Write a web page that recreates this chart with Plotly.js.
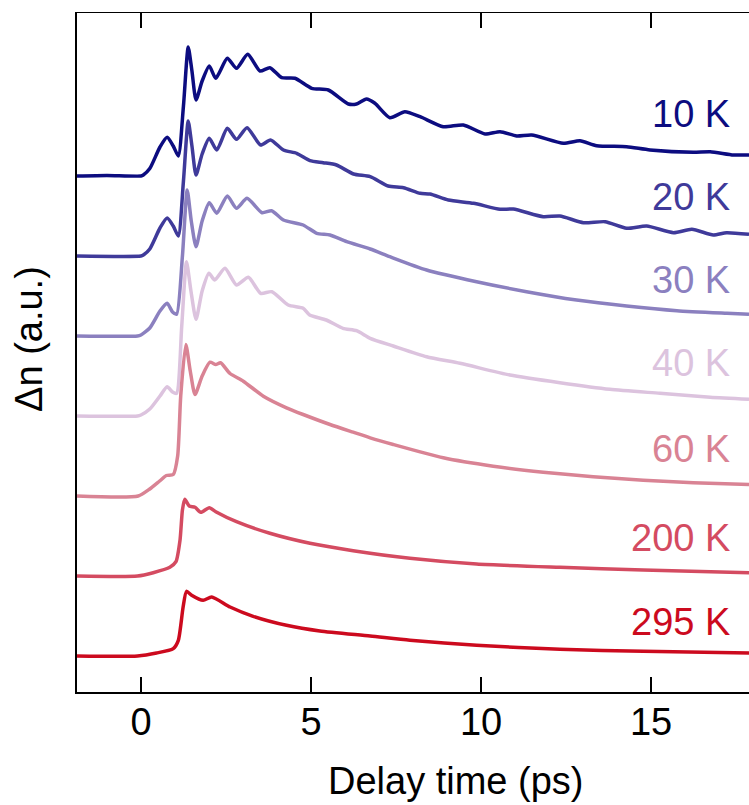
<!DOCTYPE html>
<html>
<head>
<meta charset="utf-8">
<script src="https://cdn.plot.ly/plotly-3.0.1.min.js"></script>
<style>html,body{margin:0;padding:0;background:#fff;}#chart{width:749px;height:805px;}</style>
</head>
<body>
<div id="chart"></div>
<script>
// Series labels and colours
const labels = ["10 K", "20 K", "30 K", "40 K", "60 K", "200 K", "295 K"];
const colors = ["#0c0c80", "#3f3a9a", "#8b80bf", "#dcc3de", "#d98394", "#d44b61", "#cc0a1e"];
// vertical offsets (stacking) in a.u.
const offsets = [516, 436, 356, 276, 196, 116, 36];

// Delay times (ps) and signal (a.u.) for each temperature
const t10 = [-1.88, -1.0, 0.0, 0.07, 0.26, 0.56, 0.77, 0.95, 1.10, 1.25, 1.39, 1.50, 1.62, 1.80, 2.01, 2.20, 2.54, 2.81, 3.14, 3.50, 3.79, 4.14, 4.53, 5.02, 5.51, 6.10, 6.34, 6.63, 6.88, 7.32, 7.76, 8.21, 8.89, 9.48, 10.12, 10.56, 11.05, 11.49, 12.42, 12.91, 13.40, 14.28, 14.97, 16.24, 16.74, 17.42, 17.88];
const s10 = [0, 0.5, 0, 1, 7.4, 29, 38.7, 30, 20, 70, 129, 105, 76, 95, 110, 97.7, 117.7, 107.7, 121.7, 105, 108.3, 98.3, 97.7, 87.7, 86, 72, 72, 77, 72.7, 58.3, 64.3, 59.3, 49.3, 51, 42, 44.3, 40, 41, 32.7, 35.3, 30.3, 29.3, 26, 23.7, 24.3, 21, 21];

const t20 = [-1.88, 0.0, 0.07, 0.26, 0.56, 0.77, 0.95, 1.10, 1.25, 1.39, 1.50, 1.62, 1.80, 2.01, 2.23, 2.54, 2.81, 3.12, 3.52, 3.81, 4.19, 4.58, 4.97, 5.36, 5.75, 6.25, 6.74, 7.27, 7.72, 8.21, 8.50, 9.04, 9.78, 10.56, 10.95, 11.83, 12.32, 13.01, 13.65, 14.28, 14.87, 15.66, 16.20, 16.83, 17.22, 17.88];
const s20 = [0, 0, 1, 7, 28, 38, 30, 20, 75, 135, 110, 81, 102, 117.7, 106, 127.7, 116.7, 128.3, 111, 116, 106, 102.7, 95.3, 93.3, 91, 82, 79.3, 70, 68.3, 62.7, 62, 56, 52.7, 46.7, 47, 39.3, 40, 33.3, 34.3, 27.7, 30, 23.3, 26.7, 21, 23.3, 21.7];

const t30 = [-1.88, -0.1, 0.0, 0.26, 0.56, 0.77, 0.93, 1.05, 1.22, 1.36, 1.48, 1.62, 1.80, 2.01, 2.23, 2.54, 2.81, 3.12, 3.56, 3.84, 4.19, 4.77, 5.17, 5.56, 6.05, 6.74, 7.32, 8.40, 9.87, 11.34, 12.81, 14.28, 15.76, 17.23, 17.88];
const s30 = [0, 0, 1, 8, 25, 32.7, 24, 21.7, 80, 146, 115, 89.3, 115, 133.3, 122.7, 140, 127.7, 137.7, 123.3, 125.3, 116, 111, 102.7, 101, 94.3, 87, 79.3, 66, 54.3, 44.3, 36, 30, 25.3, 22.7, 21.7];

const t40 = [-1.88, -0.1, 0.0, 0.26, 0.56, 0.77, 0.93, 1.05, 1.20, 1.34, 1.47, 1.62, 1.80, 2.00, 2.17, 2.47, 2.81, 3.16, 3.52, 3.85, 4.33, 4.77, 4.96, 5.45, 5.94, 6.34, 6.74, 7.42, 8.40, 9.38, 10.85, 12.32, 13.79, 15.26, 16.74, 17.88];
const s40 = [0, 0, 1, 7, 20, 29.3, 24, 22.7, 90, 154.3, 125, 96.7, 125, 142.7, 136, 147.7, 131, 138.7, 122.7, 124.3, 111, 107.7, 101, 96, 87.7, 85.3, 77.7, 70, 59.3, 52.7, 41, 33.3, 26.7, 22.7, 18.7, 16.7];

const t60 = [-1.88, -0.08, 0.26, 0.55, 0.75, 0.95, 1.08, 1.17, 1.32, 1.45, 1.59, 1.80, 2.03, 2.20, 2.34, 2.62, 3.01, 3.60, 4.28, 4.77, 5.56, 6.24, 6.74, 7.42, 8.89, 10.36, 11.83, 13.30, 14.77, 16.24, 17.88];
const s60 = [0, 0, 7, 15, 20.5, 21.5, 40, 100, 151.5, 125, 101.5, 120, 133.8, 131.5, 133.2, 122.5, 114.8, 99.8, 88.2, 81.5, 71.5, 63.8, 58.2, 51.5, 38.2, 29.8, 23.8, 19.2, 15.8, 13.2, 11.5];

const t200 = [-1.88, -0.1, 0.36, 0.85, 1.03, 1.15, 1.22, 1.29, 1.42, 1.59, 1.76, 2.01, 2.20, 2.81, 3.79, 4.97, 6.24, 7.91, 9.87, 12.32, 14.77, 17.88];
const s200 = [0, 0, 3.3, 8.7, 14.3, 36, 66, 76.7, 70, 68.7, 63.7, 68.3, 64.3, 54.3, 42.7, 32.7, 25.3, 17.7, 12, 8.7, 6, 3.3];

const t295 = [-1.88, -0.1, 0.46, 0.95, 1.10, 1.24, 1.34, 1.49, 1.83, 2.08, 2.62, 3.30, 4.28, 5.26, 6.74, 7.91, 9.87, 12.32, 14.77, 17.88];
const s295 = [0, 0, 3, 7.4, 15.7, 49, 64.7, 60.7, 55.7, 59, 49, 39.7, 30.7, 25, 20, 15.7, 10.7, 6.7, 4.7, 3];

const xTickVals = [0, 5, 10, 15];
const xTickText = ["0", "5", "10", "15"];

const times = [t10, t20, t30, t40, t60, t200, t295];
const sigs = [s10, s20, s30, s40, s60, s200, s295];

const FONT = "Liberation Sans, Arial, Helvetica, sans-serif";

const traces = times.map((tt, i) => ({
  x: tt,
  y: sigs[i].map(v => v + offsets[i]),
  type: "scatter",
  mode: "lines",
  line: {color: colors[i], width: 3.5, shape: "spline", smoothing: 0.6},
  hoverinfo: "skip",
  showlegend: false
}));

// label vertical positions (a.u.), right-aligned near the right edge
const labelY = [578, 495.5, 412, 329, 243, 154, 70];
const annotations = labels.map((lab, i) => ({
  text: lab, xref: "paper", yref: "y", x: 0.975, y: labelY[i],
  xanchor: "right", yanchor: "middle", showarrow: false,
  font: {family: FONT, size: 38, color: colors[i]}
}));
annotations.push({
  text: "Δn (a.u.)", xref: "paper", yref: "paper", x: -0.0714, y: 0.52,
  xanchor: "center", yanchor: "middle", textangle: -90, showarrow: false,
  font: {family: FONT, size: 38, color: "#000"}
});
annotations.push({
  text: "Delay time (ps)", xref: "paper", yref: "paper", x: 0.564, y: -0.131,
  xanchor: "center", yanchor: "middle", showarrow: false,
  font: {family: FONT, size: 38, color: "#000"}
});

const layout = {
  width: 749, height: 805,
  margin: {l: 77, r: 0, t: 13, b: 113},
  paper_bgcolor: "#fff", plot_bgcolor: "#fff",
  showlegend: false,
  xaxis: {
    range: [-1.88, 17.88], tickvals: xTickVals, ticktext: xTickText,
    ticks: "inside", ticklen: 15, tickwidth: 1.5, tickcolor: "#000",
    ticklabelstandoff: -4,
    showline: true, linecolor: "#000", linewidth: 1.5, mirror: "ticks",
    showgrid: false, zeroline: false,
    tickfont: {family: FONT, size: 38, color: "#000"}
  },
  yaxis: {
    range: [0, 679], showticklabels: false, ticks: "",
    showline: true, linecolor: "#000", linewidth: 2, mirror: false,
    showgrid: false, zeroline: false
  },
  annotations: annotations
};

Plotly.newPlot("chart", traces, layout, {displayModeBar: false, staticPlot: true});
</script>
</body>
</html>
